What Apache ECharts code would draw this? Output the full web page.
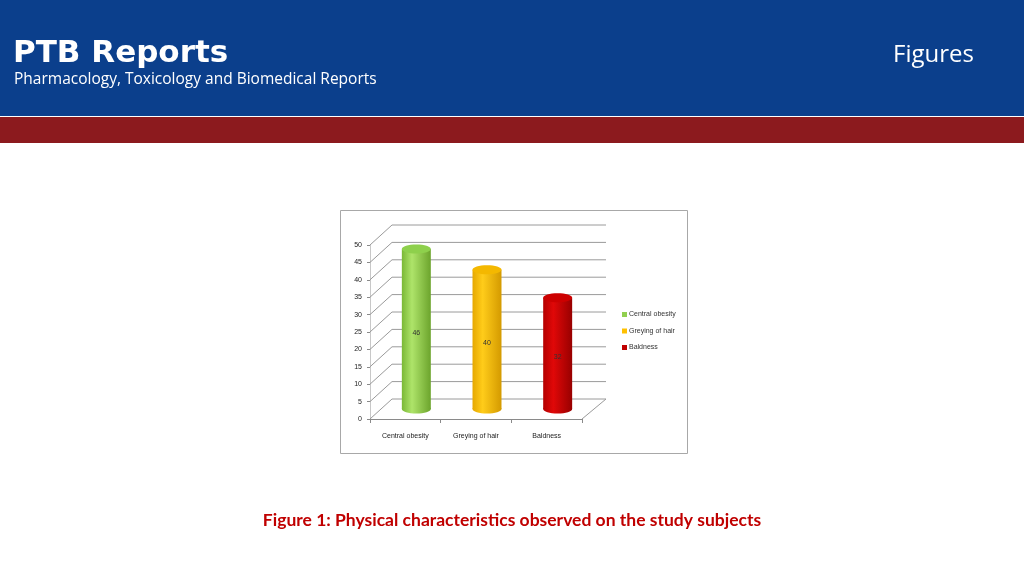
<!DOCTYPE html>
<html><head><meta charset="utf-8">
<script src="https://cdn.jsdelivr.net/npm/echarts@6/dist/echarts.min.js"></script>
<style>html,body{margin:0;padding:0;background:#fff}#c{width:1024px;height:576px}</style>
</head><body><div id="c"></div>
<script>
const categories = ['Central obesity', 'Greying of hair', 'Baldness'];
const values = [46, 40, 32];
const yTicks = [0, 5, 10, 15, 20, 25, 30, 35, 40, 45, 50];

const palette = [
  {base:'#92d050', dark:'#7ab836', light:'#aee46a', dark2:'#6ca42c', top:'#8ed04c'},
  {base:'#ffc000', dark:'#e6a800', light:'#ffcc1a', dark2:'#d49a00', top:'#f4b800'},
  {base:'#c00000', dark:'#b40000', light:'#e00808', dark2:'#980000', top:'#cc0000'}
];
const DX = 22, DY = -20;
const FONT = 'Liberation Sans';

const chart = echarts.init(document.getElementById('c'));

function wallItem(params, api) {
  const v = api.value(1);
  const fl = api.coord([0, v]);
  const fr = api.coord([3, v]);
  const children = [
    {type:'line', shape:{x1:fl[0], y1:fl[1], x2:fl[0]+DX, y2:fl[1]+DY}, style:{stroke:'#9a9a9a', lineWidth:1}},
    {type:'line', shape:{x1:fl[0]+DX, y1:fl[1]+DY, x2:fr[0]+DX+2, y2:fr[1]+DY}, style:{stroke:'#9a9a9a', lineWidth:1}}
  ];
  if (v === 0) {
    children.push({type:'line', shape:{x1:fr[0], y1:fr[1], x2:fr[0]+DX+2, y2:fr[1]+DY}, style:{stroke:'#9a9a9a', lineWidth:1}});
  }
  return {type:'group', children};
}

function cylItem(params, api) {
  const idx = api.value(0), v = api.value(1);
  const top = api.coord([idx, v]);
  const base = api.coord([idx, 0]);
  const band = api.size([1, 0])[0];
  const rx = band * 0.205, ry = 4.5;
  const cx = top[0] + DX / 2;
  const ty = top[1] + DY / 2, by = base[1] + DY / 2;
  const c = palette[idx];
  const grad = () => new echarts.graphic.LinearGradient(0, 0, 1, 0, [
    {offset:0, color:c.dark}, {offset:0.35, color:c.light}, {offset:1, color:c.dark2}
  ]);
  return {type:'group', children:[
    {type:'ellipse', shape:{cx:cx, cy:by, rx:rx, ry:ry}, style:{fill:grad()}},
    {type:'rect', shape:{x:cx-rx, y:ty, width:2*rx, height:by-ty}, style:{fill:grad()}},
    {type:'ellipse', shape:{cx:cx, cy:ty, rx:rx, ry:ry}, style:{fill:c.top}},
    {type:'text', style:{text:String(v), x:cx, y:(ty+by)/2 + 4, align:'center', verticalAlign:'middle', fontSize:7, fontFamily:FONT, fill:'#333'}}
  ]};
}

const series = [{
  type:'custom', name:'walls', xAxisIndex:1, yAxisIndex:0, silent:true, clip:false, z:1,
  renderItem: wallItem, data: yTicks.map(v => [0, v]), encode:{x:0, y:1}
}];
categories.forEach((name, i) => {
  series.push({
    type:'custom', name:name, xAxisIndex:0, yAxisIndex:0, clip:false, z:3,
    itemStyle:{color:palette[i].base},
    renderItem: cylItem, data: [[i, values[i]]], encode:{x:0, y:1}
  });
});

chart.setOption({
  animation:false,
  graphic:[
    {type:'rect', shape:{x:0, y:0, width:1024, height:116}, style:{fill:'#0b3f8c'}, z:-10},
    {type:'rect', shape:{x:0, y:117, width:1024, height:26}, style:{fill:'#8c1a1e'}, z:-10},
    {type:'text', left:13, top:38, style:{text:'PTB Reports', fill:'#fff', fontSize:31, fontWeight:'bold', fontFamily:'DejaVu Sans'}},
    {type:'text', left:14, top:72, style:{text:'Pharmacology, Toxicology and Biomedical Reports', fill:'#fff', fontSize:15.5, fontFamily:'Open Sans'}},
    {type:'text', left:893, top:43, style:{text:'Figures', fill:'#fff', fontSize:24, fontFamily:'Open Sans'}},
    {type:'rect', shape:{x:340.5, y:210.5, width:347, height:243}, style:{fill:'#fff', stroke:'#a8a8a8', lineWidth:1}, z:-5},
    {type:'text', left:'center', top:511, style:{text:'Figure 1: Physical characteristics observed on the study subjects', fill:'#c00000', fontSize:17.5, fontWeight:'bold', fontFamily:'Lato'}}
  ],
  grid:{left:370, right:442, top:245, bottom:157},
  legend:{
    data:categories, orient:'vertical', left:622, top:311, icon:'rect',
    itemWidth:5, itemHeight:5, itemGap:9.5, padding:0,
    textStyle:{fontSize:7, color:'#333', fontFamily:FONT, padding:[0,0,0,-3]}
  },
  xAxis:[
    {type:'category', data:categories, axisLine:{lineStyle:{color:'#8a8a8a'}},
     axisTick:{show:true, length:4, lineStyle:{color:'#8a8a8a'}},
     axisLabel:{fontSize:7, color:'#222', fontFamily:FONT, margin:14}, splitLine:{show:false}},
    {type:'value', min:0, max:3, show:false}
  ],
  yAxis:{type:'value', min:0, max:50, interval:5,
    axisLine:{show:true, lineStyle:{color:'#c8c8c8'}},
    axisTick:{show:true, length:3, lineStyle:{color:'#8a8a8a'}},
    axisLabel:{fontSize:7, color:'#222', fontFamily:FONT, margin:8},
    splitLine:{show:false}},
  series: series
});
</script></body></html>
